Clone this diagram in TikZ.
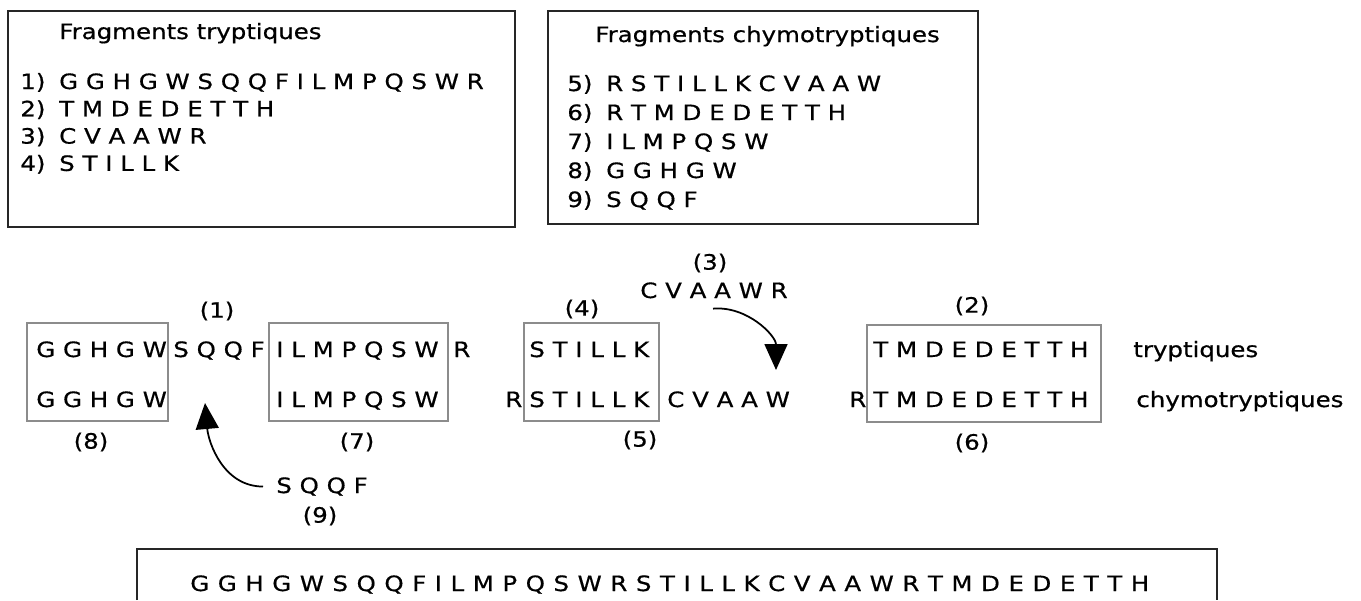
\documentclass[tikz,border=0pt]{standalone}
\usepackage{fontspec}
\setmainfont{DejaVu Sans}[FakeStretch=1.16, FakeBold=0.6]
\usepackage{tikz}
\usetikzlibrary{arrows.meta}
\tikzset{
	seq/.style={inner sep=0pt, anchor=base west},
	num/.style={inner sep=0pt},
	frag/.style={line width=1.6pt, draw=black!85},
	cut/.style={draw=black!45, line width=0.6pt},
	move/.style={line width=1pt, -{Triangle[width=0.46cm,length=0.52cm]}}
}

\begin{document}
\begin{tikzpicture}[x=0.02cm, y=0.02cm, font=\fontsize{12}{14}\selectfont]
	\useasboundingbox (0,0) rectangle (1361,-600);
	\draw[frag] (8,-11) rectangle (515,-227);
	\draw[frag] (548,-11) rectangle (978,-224);
	\node[seq] (tryptitle) at (59,-39) {Fragments tryptiques};
	\node[seq] (chymotitle) at (595,-42) {Fragments chymotryptiques};
	\foreach \s [count=\i] in {G G H G W S Q Q F I L M P Q S W R, T M D E D E T T H, C V A A W R, S T I L L K} {
	\node[seq] (t\i) at (20,-89-27.3*\i+27.3) {\i)\hspace{0.12cm} \s};
	}
	\foreach \s [count=\i from 5] in {R S T I L L K C V A A W, R T M D E D E T T H, I L M P Q S W, G G H G W, S Q Q F} {
	\node[seq] (c\i) at (567,-91-29*\i+145) {\i)\hspace{0.12cm} \s};
	}

	\draw[cut] (27,-323) rectangle (168,-421);
	\draw[cut] (269,-323) rectangle (448,-421);
	\draw[cut] (524,-323) rectangle (659,-421);
	\draw[cut] (867,-325) rectangle (1101,-422);

	\node[num] (n1) at (217,-311) {(1)};
	\node[seq] (a1) at (36,-357) {G G H G W};
	\node[seq] (a2) at (173,-357) {S Q Q F};
	\node[seq] (a3) at (276,-357) {I L M P Q S W};
	\node[seq] (a4) at (453,-357) {R};
	\node[seq] (b1) at (36,-407) {G G H G W};
	\node[seq] (b3) at (276,-407) {I L M P Q S W};
	\node[num] (n8) at (91,-442) {(8)};
	\node[num] (n7) at (357,-442) {(7)};
	\node[seq] (sqqf) at (276,-493) {S Q Q F};
	\node[num] (n9) at (320,-516) {(9)};

	\node[num] (n3) at (710,-263) {(3)};
	\node[seq] (cvaawr) at (640,-298) {C V A A W R};
	\node[num] (n4) at (582,-309) {(4)};
	\node[seq] (a5) at (529,-357) {S T I L L K};
	\node[seq] (b4) at (505,-407) {R};
	\node[seq] (b5) at (529,-407) {S T I L L K};
	\node[seq] (b6) at (667,-407) {C V A A W};
	\node[num] (n5) at (640,-440) {(5)};

	\node[num] (n2) at (972,-306) {(2)};
	\node[seq] (a6) at (873,-357) {T M D E D E T T H};
	\node[seq] (b7) at (849,-407) {R};
	\node[seq] (b8) at (873,-407) {T M D E D E T T H};
	\node[num] (n6) at (972,-443) {(6)};
	\node[seq] (tryp) at (1133,-357) {tryptiques};
	\node[seq] (chymo) at (1136,-407) {chymotryptiques};

	\coordinate (tipa) at (205,-403);
	\coordinate (tipb) at (776,-370);
	\draw[move] ([xshift=-0.26cm]sqqf.west) to[out=180, in=-85] (tipa);
	\draw[move] ([xshift=-0.02cm, yshift=-0.2cm]cvaawr.south) to[out=5, in=90] (tipb);

	\draw[frag] (137,-600) |- (1217,-549) -- (1217,-600);
	\node[seq] (full) at (190,-591) {\spaceskip=1.1\fontdimen2\font G G H G W S Q Q F I L M P Q S W R S T I L L K C V A A W R T M D E D E T T H};
\end{tikzpicture}
\end{document}
